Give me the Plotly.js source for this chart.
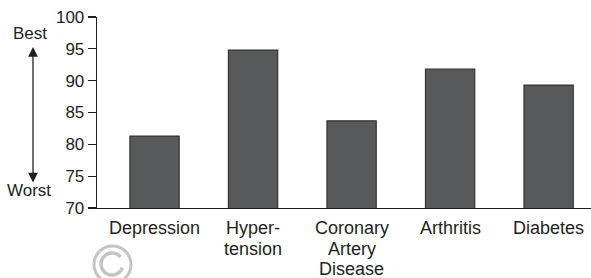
<!DOCTYPE html>
<html>
<head>
<meta charset="utf-8">
<script src="https://cdn.plot.ly/plotly-3.0.1.min.js"></script>
<style>html,body{margin:0;padding:0;background:#fff;}#chart{width:591px;height:278px;}</style>
</head>
<body>
<div id="chart"></div>
<script>
const categories = ["Depression", "Hyper-|tension", "Coronary|Artery|Disease", "Arthritis", "Diabetes"];
const scores = [81.3, 94.8, 83.7, 91.8, 89.3];
const yTicks = [70, 75, 80, 85, 90, 95, 100];

const FONT = "Liberation Sans, Arial, Helvetica, sans-serif";
const INK = "#231f20";
const L = 97, T = 17, W = 494, H = 191;
const px = x => (x - L) / W;
const py = y => (T + H - y) / H;

const xs = categories.map((c, i) => i);

const data = [{
  type: "bar",
  x: xs,
  y: scores,
  width: 0.5,
  marker: {color: "#58595b", line: {color: "#333333", width: 1.2}},
  hoverinfo: "none"
}];

const annotations = [
  {xref: "paper", yref: "paper", x: px(30), y: py(33), text: "Best", showarrow: false,
   font: {family: FONT, size: 17, color: INK}, xanchor: "center", yanchor: "middle"},
  {xref: "paper", yref: "paper", x: px(29), y: py(190), text: "Worst", showarrow: false,
   font: {family: FONT, size: 17, color: INK}, xanchor: "center", yanchor: "middle"},
  {xref: "paper", yref: "paper", x: px(33), y: py(47), ax: 0, ay: 137, text: "",
   showarrow: true, arrowside: "end+start", arrowhead: 2, arrowsize: 1.5, arrowwidth: 1.3, arrowcolor: INK}
];
categories.forEach((c, i) => {
  c.split("|").forEach((line, j) => {
    annotations.push({xref: "x", yref: "paper", x: xs[i], y: py(228 + 20.5 * j), text: line,
      showarrow: false, xanchor: "center", yanchor: "middle",
      font: {family: FONT, size: 18, color: INK}});
  });
});

// watermark (decorative)
const cx = 112, cy = 264, r = 11;
let path = "";
for (let k = 0; k <= 40; k++) {
  const a = (40 + k * 7.5) * Math.PI / 180;
  const X = px(cx + r * Math.cos(a)), Y = py(cy - r * Math.sin(a));
  path += (k === 0 ? "M" : "L") + X.toFixed(5) + "," + Y.toFixed(5);
}

const layout = {
  width: 591, height: 278,
  margin: {l: L, r: 0, t: T, b: 278 - T - H},
  paper_bgcolor: "#fff", plot_bgcolor: "#fff",
  showlegend: false,
  font: {family: FONT, size: 17, color: INK},
  xaxis: {
    range: [-0.584, 4.43],
    showticklabels: false,
    ticks: "",
    showgrid: false, zeroline: false,
    showline: true, linecolor: INK, linewidth: 1.3
  },
  yaxis: {
    range: [70, 100],
    tickvals: yTicks,
    ticks: "outside", ticklen: 8, tickwidth: 1.3, tickcolor: INK,
    showgrid: false, zeroline: false,
    showline: true, linecolor: INK, linewidth: 1.3,
    tickfont: {family: FONT, size: 17, color: INK}
  },
  annotations: annotations,
  shapes: [
    {type: "circle", xref: "paper", yref: "paper", x0: px(94), x1: px(131), y0: py(283), y1: py(246),
     line: {color: "#c4c4c4", width: 3}},
    {type: "path", xref: "paper", yref: "paper", path: path, line: {color: "#c4c4c4", width: 3.5}}
  ]
};

Plotly.newPlot("chart", data, layout, {staticPlot: true, displayModeBar: false});
</script>
</body>
</html>
